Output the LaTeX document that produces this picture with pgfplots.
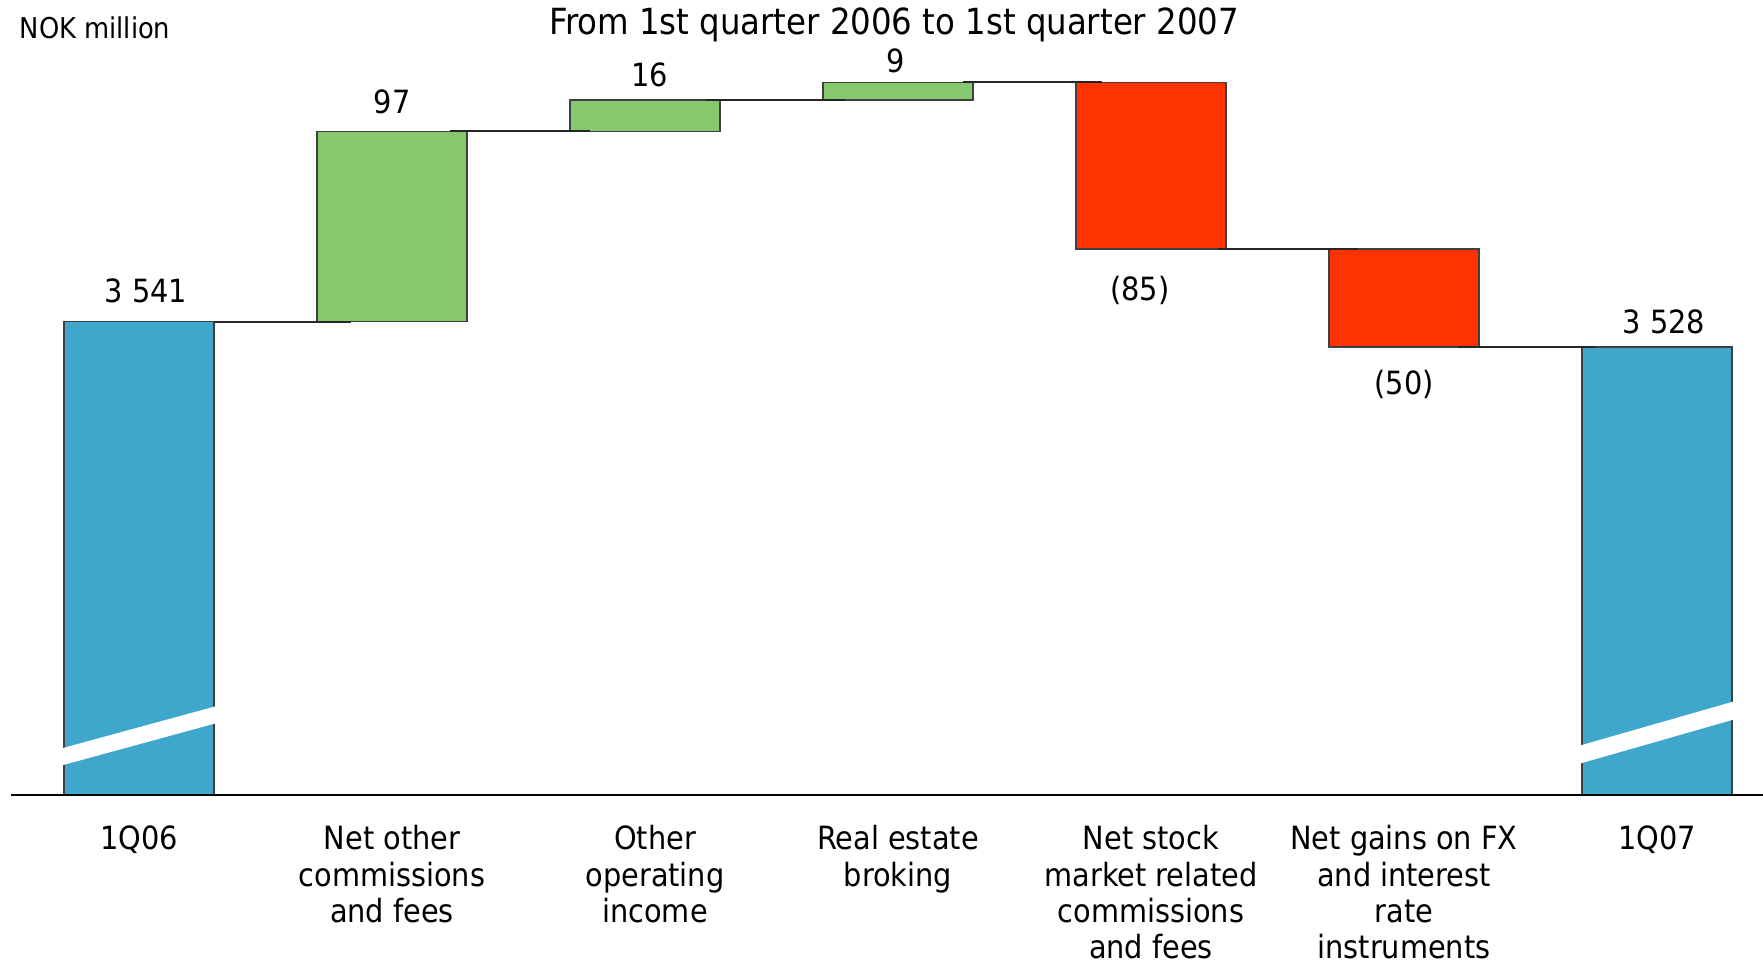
\documentclass[border=0pt]{standalone}
\usepackage{pgfplots}
\pgfplotsset{compat=1.18}
\usepackage{fontspec}
\setmainfont{DejaVu Sans Condensed}
\definecolor{cblue}{RGB}{64,167,204}
\definecolor{cgreen}{RGB}{134,200,110}
\definecolor{cred}{RGB}{255,51,0}
\newcommand\lab{\fontsize{9.6}{11.3}\selectfont}
\newcommand\tlab{\fontsize{9.6}{10.9}\selectfont}
\begin{document}
\begin{tikzpicture}
\useasboundingbox (-3.3pt,-51.6pt) rectangle (525.6pt,238.5pt);
\pgfplotsset{
  common/.style={
    at={(0pt,0pt)}, anchor=south west,
    scale only axis, width=525.6pt, height=238.5pt,
    xmin=-0.506, xmax=6.419, ymin=3299.3, ymax=3705.1,
  }
}
\begin{axis}[
  common,
  axis x line*=bottom, axis y line=none,
  x axis line style={black, line width=0.5pt},
  axis on top,
  xtick={0,1,2,3,4,5,6},
  xticklabels={1Q06, {Net other\\commissions\\and fees}, {\hspace*{6pt}Other\\\hspace*{6pt}operating\\\hspace*{6pt}income}, {Real estate\\broking}, {Net stock\\market related\\commissions\\and fees}, {Net gains on FX\\and interest\\rate\\instruments}, 1Q07},
  major tick length=0pt,
  xticklabel style={anchor=north, align=center, inner sep=0pt, yshift=-9pt, font=\tlab},
  ytick=\empty,
  ybar stacked, bar width=0.593,
]
% invisible base
\addplot[draw=none, fill=none] coordinates {(0,0) (1,3541) (2,3638) (3,3654) (4,3578) (5,3528) (6,0)};
% totals
\addplot[fill=cblue, draw=black!75, line width=0.4pt] coordinates {(0,3541) (1,0) (2,0) (3,0) (4,0) (5,0) (6,3528)};
% increases
\addplot[fill=cgreen, draw=black!75, line width=0.4pt] coordinates {(0,0) (1,97) (2,16) (3,9) (4,0) (5,0) (6,0)};
% decreases
\addplot[fill=cred, draw=black!75, line width=0.4pt] coordinates {(0,0) (1,0) (2,0) (3,0) (4,85) (5,50) (6,0)};
\end{axis}
\begin{axis}[
  common, hide axis, clip=false,
]
% connectors
\addplot[black!85, line width=0.6pt] coordinates {(0.295,3541) (0.837,3541)};
\addplot[black!85, line width=0.6pt] coordinates {(1.228,3638) (1.784,3638)};
\addplot[black!85, line width=0.6pt] coordinates {(2.241,3654) (2.792,3654)};
\addplot[black!85, line width=0.6pt] coordinates {(3.255,3663) (3.806,3663)};
\addplot[black!85, line width=0.6pt] coordinates {(4.264,3578) (4.820,3578)};
\addplot[black!85, line width=0.6pt] coordinates {(5.215,3528) (5.759,3528)};
% axis break bands
\addplot[fill=white, draw=none] coordinates {(-0.391,3320.1) (0.360,3346.6) (0.360,3337.9) (-0.391,3311.4)};
\addplot[fill=white, draw=none] coordinates {(5.597,3320.9) (6.348,3348.7) (6.348,3339.5) (5.597,3311.7)};
% value labels
\node[font=\lab] at (axis cs:0.027,3556.6) {3 541};
\node[font=\lab] at (axis cs:1,3653) {97};
\node[font=\lab] at (axis cs:2.018,3666.8) {16};
\node[font=\lab] at (axis cs:2.99,3674) {9};
\node[font=\lab] at (axis cs:3.956,3556.6) {(85)};
\node[font=\lab] at (axis cs:5,3508.8) {(50)};
\node[font=\lab] at (axis cs:6.027,3541) {3 528};
% titles
\node[font=\fontsize{10.8}{13}\selectfont] at (axis cs:2.984,3692.4) {From 1st quarter 2006 to 1st quarter 2007};
\node[font=\fontsize{8.6}{10}\selectfont, anchor=west, inner sep=0pt] at (axis cs:-0.474,3690.8) {NOK million};
\end{axis}
\end{tikzpicture}
\end{document}
